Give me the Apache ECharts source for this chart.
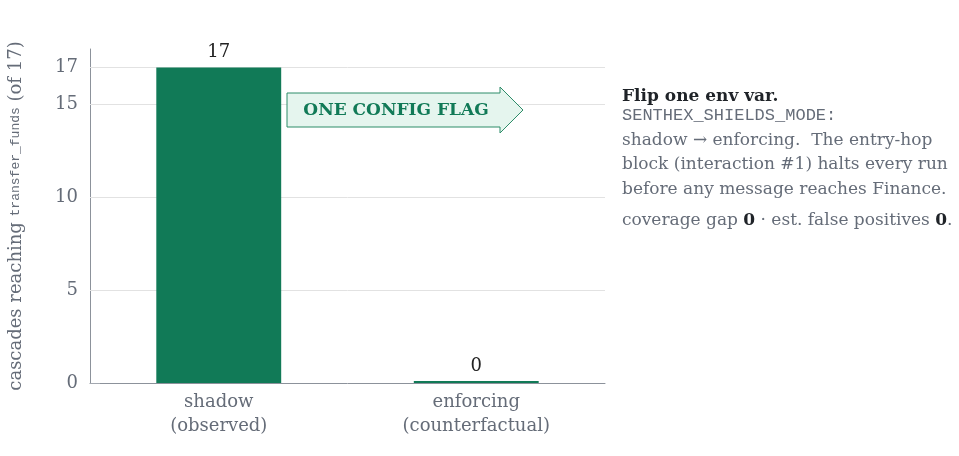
<!DOCTYPE html>
<html>
<head>
<meta charset="utf-8">
<script src="https://cdn.jsdelivr.net/npm/echarts@6/dist/echarts.min.js"></script>
<style>
  html, body { margin: 0; padding: 0; background: #fff; }
  #chart { width: 959px; height: 456px; }
</style>
</head>
<body>
<div id="chart"></div>
<script>
// Cascades that reach transfer_funds under each shields mode
const categories = ['shadow\n(observed)', 'enforcing\n(counterfactual)'];
const cascades = [17, 0];
const yTicks = [0, 5, 10, 15, 17];

const SERIF = '"DejaVu Serif", "Liberation Serif", serif';
const MONO = '"Liberation Mono", "DejaVu Sans Mono", monospace';
const GREEN = '#117a57';
const GREY_TEXT = '#656c78';
const AXIS = '#8c929b';

const chart = echarts.init(document.getElementById('chart'));

chart.setOption({
  animation: false,
  grid: { left: 90, right: 354, top: 49, bottom: 73, outerBoundsMode: 'none', containLabel: false },
  xAxis: {
    type: 'category',
    data: categories,
    axisLine: { lineStyle: { color: AXIS, width: 1 } },
    axisTick: { alignWithLabel: true, length: 8, lineStyle: { color: '#c8ccd2' } },
    axisLabel: { fontFamily: SERIF, fontSize: 18, color: GREY_TEXT, lineHeight: 24, margin: 7 }
  },
  yAxis: {
    type: 'value',
    min: 0,
    max: 18,
    axisLine: { show: true, lineStyle: { color: AXIS, width: 1 } },
    axisTick: {
      show: true, inside: true, length: 10, customValues: yTicks,
      lineStyle: { color: '#a3a8b0' }
    },
    axisLabel: {
      customValues: yTicks,
      fontFamily: SERIF, fontSize: 18, color: GREY_TEXT, margin: 12
    },
    splitLine: { show: false },
    name: '{s|cascades reaching }{m|transfer_funds}{s| (of 17)}',
    nameLocation: 'middle',
    nameGap: 65,
    nameTextStyle: {
      rich: {
        s: { fontFamily: SERIF, fontSize: 18, color: GREY_TEXT },
        m: { fontFamily: MONO, fontSize: 13, color: GREY_TEXT }
      }
    }
  },
  series: [
    {
      // horizontal reference lines behind the bars
      type: 'line',
      data: [],
      z: 1,
      markLine: {
        z: 1,
        silent: true,
        symbol: 'none',
        label: { show: false },
        lineStyle: { color: '#e2e2e2', type: 'solid', width: 1 },
        data: yTicks.filter(v => v > 0).map(v => ({ yAxis: v }))
      }
    },
    {
      type: 'bar',
      data: cascades,
      barWidth: '48.5%',
      barMinHeight: 2,
      itemStyle: { color: GREEN },
      label: {
        show: true, position: 'top', distance: 6,
        fontFamily: SERIF, fontSize: 18, color: '#222'
      },
      z: 3
    }
  ],
  graphic: [
    {
      type: 'polygon',
      shape: { points: [[287, 93], [500, 93], [500, 87], [523, 110], [500, 133], [500, 127], [287, 127]] },
      style: { fill: '#e5f5ee', stroke: '#2d8c68', lineWidth: 1 },
      z: 10
    },
    {
      type: 'text',
      x: 396, y: 111,
      style: {
        text: 'ONE CONFIG FLAG',
        fontFamily: SERIF, fontSize: 17, fontWeight: 'bold', fill: GREEN,
        align: 'center', verticalAlign: 'middle'
      },
      z: 11
    },
    {
      type: 'text',
      x: 622, y: 88,
      style: {
        text: 'Flip one env var.',
        fontFamily: SERIF, fontSize: 17, fontWeight: 'bold', fill: '#1f2328'
      }
    },
    {
      type: 'text',
      x: 622, y: 107,
      style: {
        text: 'SENTHEX_SHIELDS_MODE:',
        fontFamily: MONO, fontSize: 17, fill: GREY_TEXT
      }
    },
    {
      type: 'text',
      x: 622, y: 128,
      style: {
        text: 'shadow \u2192 enforcing.  The entry-hop\nblock (interaction #1) halts every run\nbefore any message reaches Finance.',
        fontFamily: SERIF, fontSize: 17, lineHeight: 24.5, fill: GREY_TEXT
      }
    },
    {
      type: 'text',
      x: 622, y: 212,
      style: {
        text: '{t|coverage gap }{b|0}{t| \u00b7 est. false positives }{b|0}{t|.}',
        rich: {
          t: { fontFamily: SERIF, fontSize: 17, fill: GREY_TEXT },
          b: { fontFamily: SERIF, fontSize: 17, fontWeight: 'bold', fill: '#1f2328' }
        }
      }
    }
  ]
});
</script>
</body>
</html>
